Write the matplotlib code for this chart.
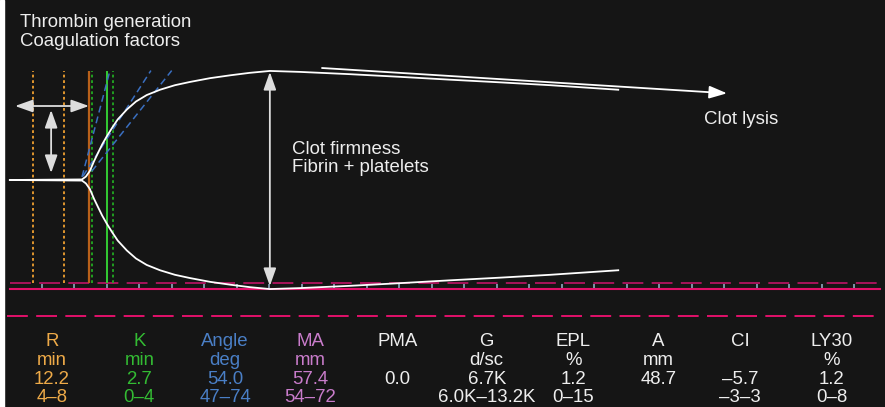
import numpy as np
import matplotlib.pyplot as plt
from matplotlib.patches import Rectangle

plt.rcParams['font.family'] = ['Liberation Sans', 'DejaVu Sans']
plt.rcParams['lines.scale_dashes'] = False

W, H = 885, 407
X0, PX_MIN = 9.2, 6.5      # pixel of t=0, pixels per minute
Y0, PX_MM = 180.0, 3.80    # pixel of baseline, pixels per mm (half amplitude)

# TEG trace: time (min) and amplitude (mm)
t_trace = [0.1, 11.2, 11.8, 12.4, 13.05, 13.7, 14.3, 15.0, 15.8, 16.7, 18.1, 19.5,
           21.15, 23.2, 25.5, 27.8, 30.9, 34.0, 37.0, 40.1, 44.7, 52.4, 60.1, 67.8,
           75.5, 83.2, 93.7]
amp_trace = [0, 0.3, 1.8, 4.7, 9.9, 14.5, 18.7, 22.9, 27.3, 31.9, 37.1, 41.3,
             44.7, 47.5, 49.9, 51.6, 53.6, 55.1, 56.4, 57.4, 56.9, 55.7, 54.3, 52.8,
             51.4, 49.9, 47.5]

# marker lines (min)
r_range = [3.7, 8.4]
r_time = 12.3
k_range = [12.8, 16.0]
k_time = 15.0

# angle tangents (start t, start half-amp, end t, end half-amp)
angle_lines = [(11.2, 0.8, 15.5, 28.8), (11.35, 1.0, 21.8, 28.8), (12.7, 2.3, 25.0, 28.8)]

# results table
names = ['R', 'K', 'Angle', 'MA', 'PMA', 'G', 'EPL', 'A', 'CI', 'LY30']
units = ['min', 'min', 'deg', 'mm', '', 'd/sc', '%', 'mm', '', '%']
values = ['12.2', '2.7', '54.0', '57.4', '0.0', '6.7K', '1.2', '48.7', '\u20135.7', '1.2']
ranges = ['4\u20138', '0\u20134', '47\u201374', '54\u201372', '', '6.0K\u201313.2K',
          '0\u201315', '', '\u20133\u20133', '0\u20138']
col_colors = ['#eeaa48', '#33bb33', '#4a7fc6', '#c97ccb'] + ['#eeeeee'] * 6
col_px = [51.7, 139.3, 225, 310, 397.7, 486.7, 573.3, 658.3, 740, 831.7]
row_px = [346, 365, 383.5, 402]

WHITE = '#eeeeee'
FS = 13.4


def vy(py):
    return (Y0 - py) / PX_MM


def fx(px):
    return px / W


def fy(py):
    return 1 - py / H


fig = plt.figure(figsize=(W / 100, H / 100), dpi=100)
fig.patch.set_facecolor('#151515')
ax = fig.add_axes([0, 0, 1, 1])
ax.set_facecolor('#151515')
ax.set_xlim(-X0 / PX_MIN, (W - X0) / PX_MIN)
ax.set_ylim(vy(H), vy(0))
ax.axis('off')
fig.add_artist(Rectangle((0, 0), 4 / W, 1, transform=fig.transFigure,
                         color='white', zorder=10))

t = np.array(t_trace)
half = np.array(amp_trace) / 2

top, bot = vy(70.7), vy(283)
# pink base lines and ticks
ax.plot([0.1, 134], [vy(283), vy(283)], color='#a8135a', lw=1.4, ls=(0, (15, 6)))
ax.plot([0.1, 134], [vy(288.5), vy(288.5)], color='#e2106a', lw=1.5)
ax.plot([-0.3, 134], [vy(316.3), vy(316.3)], color='#e2106a', lw=1.4, ls=(0, (15, 6)))
ax.vlines(np.arange(5, 131, 5), vy(288), vy(284), color='#8fa8c0', lw=1.2)

# R / K lines
ax.vlines(r_range, bot, top, color='#f0a030', lw=1.3, ls=(0, (2, 2)))
ax.vlines(k_range, bot, top, color='#22aa22', lw=1.3, ls=(0, (2, 2)))
ax.vlines([r_time], bot, top, color='#b8601a', lw=1.6)
ax.vlines([k_time], bot, top, color='#33cc33', lw=1.4)

for t1, v1, t2, v2 in angle_lines:
    ax.plot([t1, t2], [v1, v2], color='#3a6fc0', lw=1.1, ls=(0, (5, 3)))

ax.plot(t, half, color='white', lw=1.3)
ax.plot(t, -half, color='white', lw=1.3)

arrow = dict(arrowstyle='<|-|>,head_length=0.9,head_width=0.32', color='#dddddd',
             lw=1.3, mutation_scale=12, shrinkA=0, shrinkB=0)
ax.annotate('', xy=(0.9, vy(106)), xytext=((89 - X0) / PX_MIN, vy(106)), arrowprops=arrow)
ax.annotate('', xy=(6.45, vy(110)), xytext=(6.45, vy(173)), arrowprops=arrow)
ax.annotate('', xy=(40.1, vy(72)), xytext=(40.1, vy(286)), arrowprops=arrow)
lysis = dict(arrow, arrowstyle='-|>,head_length=0.9,head_width=0.32', color='white')
ax.annotate('', xy=((727 - X0) / PX_MIN, vy(93.3)), xytext=((322 - X0) / PX_MIN, vy(68)),
            arrowprops=lysis)

fig.text(fx(20), fy(27), 'Thrombin generation', color=WHITE, fontsize=FS, va='baseline')
fig.text(fx(20), fy(45.7), 'Coagulation factors', color=WHITE, fontsize=FS, va='baseline')
fig.text(fx(291.7), fy(154.3), 'Clot firmness', color=WHITE, fontsize=FS, va='baseline')
fig.text(fx(291.7), fy(172.5), 'Fibrin + platelets', color=WHITE, fontsize=FS, va='baseline')
fig.text(fx(704), fy(124.3), 'Clot lysis', color=WHITE, fontsize=FS, va='baseline')

for i in range(len(names)):
    for j, s in enumerate([names[i], units[i], values[i], ranges[i]]):
        if s:
            fig.text(fx(col_px[i]), fy(row_px[j]), s, color=col_colors[i], fontsize=FS,
                     ha='center', va='baseline')

fig.savefig('out.png', dpi=100, facecolor=fig.get_facecolor())
